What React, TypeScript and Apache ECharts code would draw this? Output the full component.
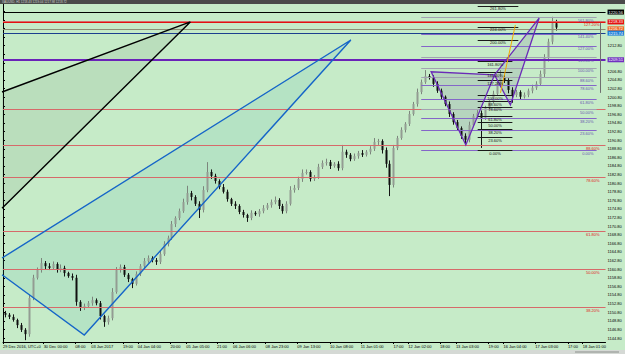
import React, { useEffect, useRef } from "react";
import * as echarts from "echarts";

// ---- candle data (2-hour bars) ----
const firstOpen = 1150.6;
const closes = [
  1150.2, 1149.7, 1149.0, 1147.8, 1146.7, 1145.7, 1154.1, 1158.8, 1160.6, 1162.2,
  1161.5, 1161.1, 1162.0, 1160.6, 1161.1, 1159.9, 1159.2, 1158.8, 1153.2, 1151.8,
  1152.2, 1152.9, 1153.6, 1152.9, 1149.9, 1148.5, 1149.4, 1155.5, 1160.6, 1161.3,
  1159.5, 1158.5, 1157.4, 1159.7, 1161.5, 1162.7, 1163.4, 1162.9, 1162.5, 1164.3,
  1166.7, 1168.1, 1171.3, 1172.7, 1174.3, 1176.4, 1178.5, 1177.6, 1176.0, 1174.6,
  1179.2, 1183.4, 1182.5, 1181.3, 1179.9, 1178.8, 1177.1, 1176.0, 1175.5, 1174.1,
  1173.4, 1172.7, 1173.9, 1173.6, 1174.3, 1175.0, 1175.7, 1176.4, 1176.9, 1175.5,
  1174.3, 1176.0, 1179.2, 1179.7, 1181.8, 1183.2, 1183.4, 1181.8, 1182.2, 1184.6,
  1185.5, 1185.7, 1184.8, 1185.3, 1184.3, 1188.1, 1187.4, 1186.4, 1187.1, 1187.8,
  1187.4, 1188.1, 1188.8, 1190.4, 1190.6, 1188.5, 1185.3, 1180.4, 1189.0, 1191.3,
  1193.2, 1194.6, 1196.9, 1199.2, 1202.0, 1204.3, 1205.7, 1205.5, 1203.9, 1202.3,
  1200.9, 1199.2, 1196.9, 1195.0, 1193.6, 1191.8, 1190.9, 1194.3, 1196.4, 1197.1,
  1196.0, 1198.3, 1199.7, 1201.6, 1203.9, 1205.5, 1204.8, 1202.5, 1201.3, 1202.0,
  1200.9, 1201.3, 1202.3, 1203.0, 1203.9, 1206.2, 1209.9, 1213.7, 1218.0, 1217.0,
];
const wickUp = [
  0.5, 0.4, 0.6, 0.3, 0.5, 0.4, 0.8, 0.7, 0.6, 1.2,
  0.5, 0.7, 0.6, 0.4, 0.8, 0.5, 0.3, 0.6, 0.7, 0.4,
  0.6, 0.5, 0.8, 0.4, 0.5, 0.3, 0.6, 0.9, 0.7, 0.6,
  0.5, 0.4, 0.3, 0.6, 0.5, 0.7, 0.6, 0.4, 0.5, 0.8,
  0.6, 0.5, 0.7, 0.4, 0.6, 0.8, 1.7, 0.5, 0.4, 0.6,
  0.9, 2.3, 0.6, 0.5, 0.4, 0.7, 0.5, 0.3, 0.6, 0.4,
  0.5, 0.3, 0.6, 0.4, 0.5, 0.7, 0.5, 0.6, 0.8, 0.4,
  0.5, 0.6, 0.9, 0.7, 0.5, 0.8, 0.6, 0.4, 0.5, 0.7,
  0.6, 0.8, 0.5, 0.4, 0.6, 1.6, 0.5, 0.4, 0.6, 0.5,
  0.7, 0.4, 0.6, 0.9, 0.5, 0.4, 0.6, 0.8, 0.7, 0.5,
  0.6, 0.4, 0.7, 0.5, 0.8, 0.6, 1.4, 0.5, 0.4, 0.6,
  0.5, 0.3, 0.6, 0.4, 0.5, 0.4, 0.6, 0.8, 0.5, 0.7,
  0.6, 0.5, 0.4, 0.7, 0.6, 1.6, 0.5, 0.4, 0.6, 0.5,
  0.4, 0.6, 0.5, 0.7, 0.6, 0.8, 0.9, 0.7, 1.5, 0.8,
];
const wickDn = [
  0.6, 0.5, 0.4, 0.7, 0.5, 1.4, 0.6, 0.5, 0.4, 0.6,
  0.7, 0.5, 0.4, 0.6, 0.5, 0.8, 0.4, 0.6, 0.9, 0.7,
  0.5, 0.4, 0.6, 0.5, 0.8, 1.1, 0.6, 0.5, 0.4, 0.6,
  0.5, 0.7, 1.0, 0.4, 0.5, 0.6, 0.4, 0.5, 0.7, 0.5,
  0.4, 0.6, 0.5, 0.7, 0.5, 0.4, 0.6, 0.8, 0.5, 1.9,
  0.6, 0.5, 0.7, 0.6, 0.5, 0.4, 0.6, 0.5, 0.7, 0.5,
  0.6, 0.9, 0.5, 0.4, 0.6, 0.5, 0.4, 0.6, 0.5, 0.7,
  0.6, 0.5, 0.4, 0.6, 0.5, 0.7, 0.4, 0.6, 0.5, 0.4,
  0.5, 0.6, 0.7, 0.4, 0.6, 0.5, 0.7, 0.5, 0.4, 0.6,
  0.5, 0.4, 0.6, 0.5, 0.7, 0.8, 0.9, 2.6, 0.6, 0.5,
  0.4, 0.6, 0.5, 0.4, 0.6, 0.5, 0.4, 0.6, 0.7, 0.5,
  0.6, 0.5, 0.7, 0.6, 0.5, 0.7, 1.2, 0.6, 0.5, 0.4,
  7.0, 0.5, 0.6, 0.4, 0.5, 0.6, 0.7, 0.8, 1.8, 0.5,
  0.6, 0.4, 0.5, 0.6, 0.5, 0.4, 0.7, 0.8, 0.6, 0.7,
];

// ---- axes ----
const xTickPos = [0, 10.25, 18.25, 22.25, 30.25, 34, 42.25, 46.25, 54, 58, 66.25, 74.25, 82.5, 90.25, 98.5, 102.25, 110.25, 114.25, 122.5, 126.25, 134.25, 142.5, 146.25];
const xTickText = [
  "29 Dec 2016, UTC+0", "30 Dec 00:00", "08:00", "03 Jan 2017", "19:00", "04 Jan 04:00", "20:00",
  "05 Jan 05:00", "21:00", "06 Jan 06:00", "08 Jan 23:00", "09 Jan 13:00", "10 Jan 08:00",
  "11 Jan 01:00", "17:00", "12 Jan 02:00", "18:00", "13 Jan 03:00", "19:00", "16 Jan 04:00",
  "17 Jan 03:00", "17:00", "18 Jan 01:00",
];
const priceTicks = [
  1144.8, 1146.8, 1148.8, 1150.8, 1152.8, 1154.8, 1156.8, 1158.8, 1160.8, 1162.8,
  1164.8, 1166.8, 1168.8, 1170.8, 1172.8, 1174.8, 1176.8, 1178.8, 1180.8, 1182.8,
  1184.8, 1186.8, 1188.8, 1190.8, 1192.8, 1194.8, 1196.8, 1198.8, 1200.8, 1202.8,
  1204.8, 1206.8, 1208.8, 1210.8, 1212.8, 1214.8, 1216.8, 1218.8, 1220.8,
];

// ---- horizontal price lines ----
const hLevels = [1220.6, 1218.3, 1216.7, 1215.7, 1209.5];
const hTags = ["1220.56", "1218.33", "1216.72", "1215.74", "1209.51"];

// ---- fibonacci objects ----
const redFibLow = 1123.5;
const redFibHigh = 1198.1;
const redFibLevels = [38.2, 50, 61.8, 78.6, 88.6, 100, 127.2];

const rightFibLow = 1188.5;
const rightFibHigh = 1207.6;
const rightFibLevels = [0, 23.6, 38.2, 50, 61.8, 78.6, 88.6, 100, 113, 127, 141.4, 161.8];
const rightFibX = [105.5, 149.75];

const innerFibLow = 1188.5;
const innerFibHigh = 1201.3;
const innerFibLevels = [0, 23.6, 38.2, 50, 61.8, 78.6, 88.6, 100, 127.2, 141.4, 161.8, 200, 224, 261.8];
const innerFibX = [119.75, 128.5];
const innerFibXWide = [119.75, 130];

// ---- drawn patterns (bar index, price) ----
const blackTri = [[47.25, 1218.3], [-0.25, 1202.0], [-0.25, 1175.0]];
const blueTri = [[87.75, 1214.1], [-0.25, 1163.4], [-0.25, 1159.5], [20.5, 1145.5]];
const harmonic = { X: [108, 1206.7], A: [116.75, 1189.7], B: [124, 1206.0], C: [128, 1199.0], D: [135.25, 1219.2] };
const orangeLine = [[125.5, 1201.8], [129.25, 1217.6]];
const bracket = [[150.75, 1218.1], [150.75, 1201.8]];

const FONT = "'Liberation Sans', Arial, sans-serif";

export default function App() {
  const ref = useRef<HTMLDivElement>(null);

  useEffect(() => {
    document.body.style.margin = "0";
    const chart = echarts.init(ref.current!, null, { renderer: "svg" });

    const candles = closes.map((c, i) => {
      const o = i === 0 ? firstOpen : closes[i - 1];
      const h = Math.max(o, c) + wickUp[i];
      const l = Math.min(o, c) - wickDn[i];
      return [i + 0.5, o, c, l, h];
    });

    // price labels hidden behind the coloured price boxes
    const shownTicks = priceTicks.filter((t) => hLevels.every((p) => Math.abs(t - p) > 1.3));

    const ml: any[] = [];
    const lineCols = ["#000000", "#e41010", "#8e8e74", "#1c3f8f", "#6a22b8"];
    const boxCols = ["#000000", "#e41010", "#f06a28", "#1e7fd8", "#7030c0"];
    hLevels.forEach((p, i) => {
      ml.push({
        yAxis: p,
        lineStyle: { color: lineCols[i], width: i === 4 ? 2 : 1.2, type: "solid" },
        label: {
          show: true, position: "end", formatter: hTags[i], backgroundColor: boxCols[i],
          color: "#fff", fontSize: 4, fontFamily: FONT, padding: [0, 1, 0, 1], lineHeight: 5, distance: 2,
        },
      });
    });
    redFibLevels.forEach((r) => {
      const p = redFibLow + (r / 100) * (redFibHigh - redFibLow);
      ml.push({
        yAxis: p,
        lineStyle: { color: "#d66a6a", width: 1, type: "solid" },
        label: {
          show: r !== 100, position: "insideEndBottom", formatter: r.toFixed(2) + "%",
          color: "#e02020", fontSize: 4, fontFamily: FONT, distance: [6, 1],
        },
      });
    });
    rightFibLevels.forEach((r) => {
      const p = rightFibLow + (r / 100) * (rightFibHigh - rightFibLow);
      const purple = [141.4, 127, 78.6, 61.8, 38.2, 23.6, 0].includes(r);
      ml.push([
        {
          coord: [rightFibX[0], p],
          lineStyle: { color: purple ? "#8466c8" : "#a2a2b2", width: 1, type: "solid" },
          label: {
            show: true, position: "insideEndBottom", formatter: r.toFixed(2) + "%",
            color: "#6a55b0", fontSize: 4, fontFamily: FONT, distance: [3, 1],
          },
        },
        { coord: [rightFibX[1], p] },
      ]);
    });
    innerFibLevels.forEach((r) => {
      const p = innerFibLow + (r / 100) * (innerFibHigh - innerFibLow);
      const xs = r >= 200 ? innerFibXWide : innerFibX;
      ml.push([
        {
          coord: [xs[0], p],
          lineStyle: { color: "#1a1a1a", width: 1, type: "solid" },
          label: {
            show: true, position: "insideMiddleBottom", formatter: r.toFixed(2) + "%",
            color: "#111", fontSize: 4, fontFamily: FONT, distance: 1,
          },
        },
        { coord: [xs[1], p] },
      ]);
    });
    ml.push([
      { coord: bracket[0], lineStyle: { color: "#6f6f6f", width: 1, type: "solid" }, label: { show: false } },
      { coord: bracket[1] },
    ]);

    const option: any = {
      animation: false,
      backgroundColor: "#c6ebc8",
      textStyle: { fontFamily: FONT },
      grid: { left: 1, right: 16, top: 4, bottom: 12, containLabel: false },
      xAxis: {
        type: "value", min: 0, max: 152, position: "bottom",
        axisLine: { show: true, onZero: false, lineStyle: { color: "#000", width: 1 } },
        axisTick: { show: true, customValues: xTickPos, length: 2, lineStyle: { color: "#000" } },
        axisLabel: {
          customValues: xTickPos,
          formatter: (v: number) => {
            let best = 0;
            xTickPos.forEach((x, i) => { if (Math.abs(x - v) < Math.abs(xTickPos[best] - v)) best = i; });
            return xTickText[best];
          },
          fontSize: 4, color: "#000", align: "left", margin: 2, fontFamily: FONT, hideOverlap: false,
        },
        splitLine: { show: false },
      },
      yAxis: {
        type: "value", position: "right", min: 1143.87, max: 1222.47,
        axisLine: { show: true, lineStyle: { color: "#000", width: 1 } },
        axisTick: { show: true, customValues: priceTicks, length: 2, lineStyle: { color: "#000" } },
        axisLabel: {
          customValues: shownTicks, formatter: (v: number) => v.toFixed(2),
          fontSize: 4, color: "#000", margin: 2, fontFamily: FONT,
        },
        splitLine: { show: false },
      },
      series: [
        {
          type: "custom", name: "shapesFill", silent: true, z: 1,
          data: [[0, 1180]],
          renderItem: (_p: any, api: any) => {
            const P = (pts: number[][]) => pts.map((q) => api.coord(q));
            const h = harmonic;
            return {
              type: "group",
              children: [
                { type: "polygon", shape: { points: P(blackTri) }, style: { fill: "rgba(50,80,50,0.08)" } },
                { type: "polygon", shape: { points: P(blueTri) }, style: { fill: "rgba(60,170,170,0.12)" } },
                { type: "polygon", shape: { points: P([h.X, h.A, h.B]) }, style: { fill: "rgba(120,120,150,0.2)" } },
                { type: "polygon", shape: { points: P([h.B, h.C, h.D]) }, style: { fill: "rgba(120,120,150,0.2)" } },
              ],
            };
          },
        },
        {
          type: "custom", name: "candles", silent: true, z: 3,
          data: candles,
          encode: { x: 0, y: [1, 2, 3, 4] },
          renderItem: (_p: any, api: any) => {
            const x = api.value(0), o = api.value(1), c = api.value(2), l = api.value(3), hi = api.value(4);
            const pO = api.coord([x, o]), pC = api.coord([x, c]), pL = api.coord([x, l]), pH = api.coord([x, hi]);
            const up = c >= o;
            const cx = Math.round(pO[0]) + 0.5;
            const top = Math.min(pO[1], pC[1]);
            const hgt = Math.max(1, Math.abs(pO[1] - pC[1]));
            return {
              type: "group",
              children: [
                { type: "line", shape: { x1: cx, y1: pH[1], x2: cx, y2: pL[1] }, style: { stroke: up ? "#7c857c" : "#141414", lineWidth: 1 } },
                { type: "rect", shape: { x: cx - 1, y: top, width: 2, height: hgt }, style: { fill: up ? "#939c93" : "#101010" } },
              ],
            };
          },
        },
        {
          type: "custom", name: "shapesLines", silent: true, z: 5,
          data: [[0, 1180]],
          renderItem: (_p: any, api: any) => {
            const P = (pts: number[][]) => pts.map((q) => api.coord(q));
            const h = harmonic;
            const ln = (pts: number[][], color: string, w: number) => ({
              type: "polyline", shape: { points: P(pts) }, style: { stroke: color, lineWidth: w, fill: "none" },
            });
            return {
              type: "group",
              children: [
                ln([blackTri[1], blackTri[0], blackTri[2]], "#000", 1.4),
                ln([blueTri[1], blueTri[0], blueTri[3], blueTri[2]], "#1565c8", 1.4),
                ln([h.B, h.X, h.A, h.B, h.C, h.D, h.B], "#6a2ab8", 1.3),
                ln(orangeLine, "#f2a800", 1),
              ],
            };
          },
        },
        {
          type: "line", name: "levels", silent: true, z: 4,
          data: [[0, 1180]], symbol: "none", lineStyle: { opacity: 0 },
          markLine: { silent: true, symbol: ["none", "none"], animation: false, data: ml },
        },
      ],
    };

    chart.setOption(option);
    return () => chart.dispose();
  }, []);

  return (
    <div style={{ position: "relative", width: 625, height: 354, overflow: "hidden", background: "#c6ebc8" }}>
      <div ref={ref} style={{ position: "absolute", left: 0, top: 0, width: 625, height: 354 }} />
      <div style={{ position: "absolute", left: 0, top: 0, width: 625, height: 4, background: "#4a4a4a", color: "#cfcfcf", fontSize: 3, lineHeight: "4px", fontFamily: FONT, paddingLeft: 2, boxSizing: "border-box", whiteSpace: "nowrap" }}>
        XAUUSD, H1 1218.43 1219.04 1217.98 1218.72
      </div>
      <div style={{ position: "absolute", left: 0, top: 350, width: 625, height: 4, background: "#d5d9d5" }}>
        <div style={{ position: "absolute", left: 575, top: 1, width: 44, height: 2, background: "#b0b4b0" }} />
      </div>
    </div>
  );
}
